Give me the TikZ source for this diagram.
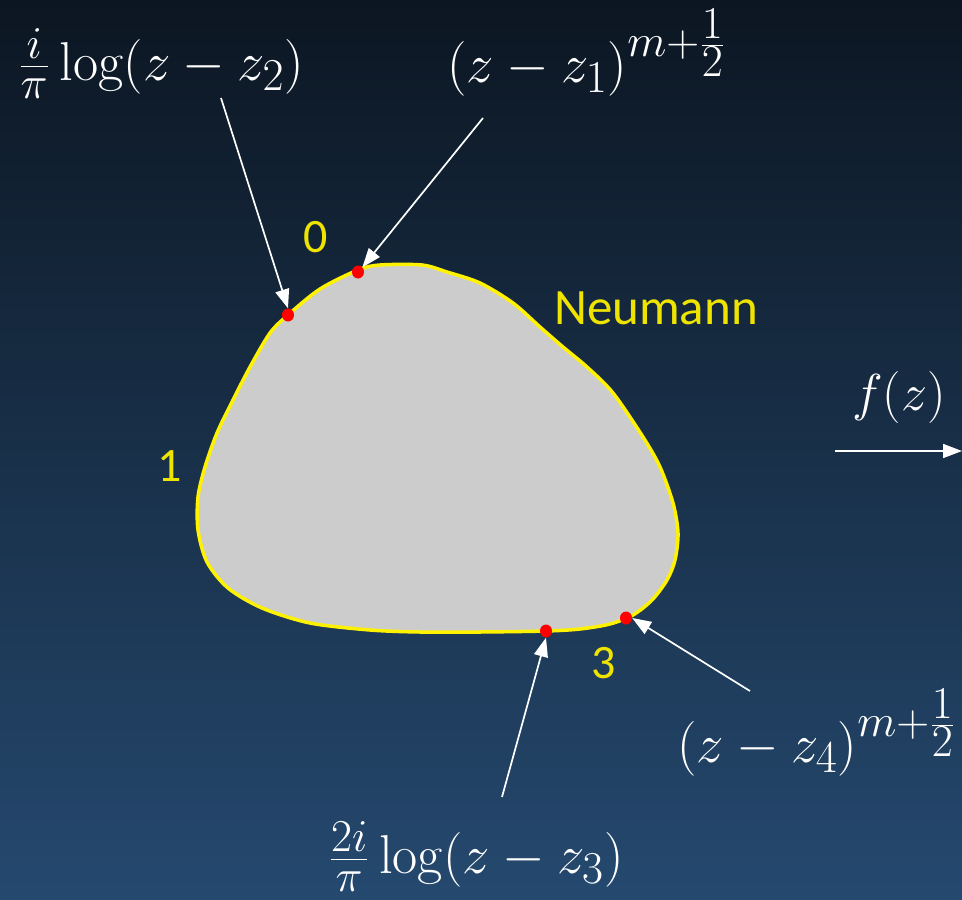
\documentclass[tikz,border=0pt]{standalone}
\usepackage[no-math]{fontspec}
\newfontfamily\labfont{Carlito}
\usetikzlibrary{arrows.meta,shapes.geometric}
\definecolor{bgtop}{RGB}{12,22,34}
\definecolor{bgbot}{RGB}{37,73,111}
\definecolor{blobfill}{RGB}{204,204,204}
\definecolor{labyellow}{RGB}{238,228,0}
\tikzset{
  mathlab/.style={text=white,inner sep=0pt,anchor=base,font=\Huge,scale=2.2},
  ylab/.style={text=labyellow,inner sep=0pt,anchor=base,font=\labfont\fontsize{48}{56}\selectfont},
  pointer/.style={draw=white,line width=1.7pt,-{Triangle[length=19pt,width=14pt]}},
  reddot/.style={ellipse,fill=red,minimum width=12pt,minimum height=13pt,inner sep=0pt},
}
\begin{document}
\begin{tikzpicture}[x=1pt,y=-1pt]
\useasboundingbox (0,0) rectangle (962,900);
\shade[top color=bgtop,bottom color=bgbot] (0,0) rectangle (962,900);
% blob
\draw[yellow,line width=3.5pt,fill=blobfill] plot[smooth cycle,tension=0.5] coordinates {
(358,270) (380,265) (422,265) (447,272) (480,283) (513,303) (540,327) (563,347) (587,367) (613,393) (643,437) (660,467) (673,503) (678,533) (675,560) (667,580) (652,600) (633,615) (610,624) (580,629) (546,631) (480,632) (420,632) (370,630) (310,623) (262,608) (228,588) (207,562) (198,530) (198,497) (205,467) (217,433) (233,400) (250,367) (270,333) (288,315) (320,289)};
% dots
\node[reddot] (d2) at (288,315) {};
\node[reddot] (d1) at (358,272) {};
\node[reddot] (d3) at (546,631) {};
\node[reddot] (d4) at (626,618) {};
% labels
\node[mathlab] (l2) at (161,80) {$\frac{i}{\pi}\log(z-z_2)$};
\node[mathlab] (l1) at (587,82) {$(z-z_1)^{m+\frac{\scriptstyle 1}{\scriptstyle 2}}$};
\node[mathlab,scale=0.95] (lf) at (899,410) {$f(z)$};
\node[mathlab] (l4) at (817,762) {$(z-z_4)^{m+\frac{\scriptstyle 1}{\scriptstyle 2}}$};
\node[mathlab] (l3) at (476,873) {$\frac{2i}{\pi}\log(z-z_3)$};
\node[ylab] (n0) at (316,252) {0};
\node[ylab] (n1) at (170,481) {1};
\node[ylab] (n3) at (604,678) {3};
\node[ylab,font=\labfont\fontsize{51}{60}\selectfont] (nn) at (656,324) {Neumann};
% arrow starts
\coordinate (s2) at (221,98);
\coordinate (s1) at (483,118);
\coordinate (s3) at (502,797);
\coordinate (s4) at (750,691);
\coordinate (sf) at (835,451);
\coordinate (ef) at (962,451);
\draw[pointer] (s2) -- (d2.north);
\draw[pointer] (s1) -- (d1.north east);
\draw[pointer] (s3) -- (d3.south);
\draw[pointer] (s4) -- (d4.east);
\draw[pointer] (sf) -- (ef);
\end{tikzpicture}
\end{document}
